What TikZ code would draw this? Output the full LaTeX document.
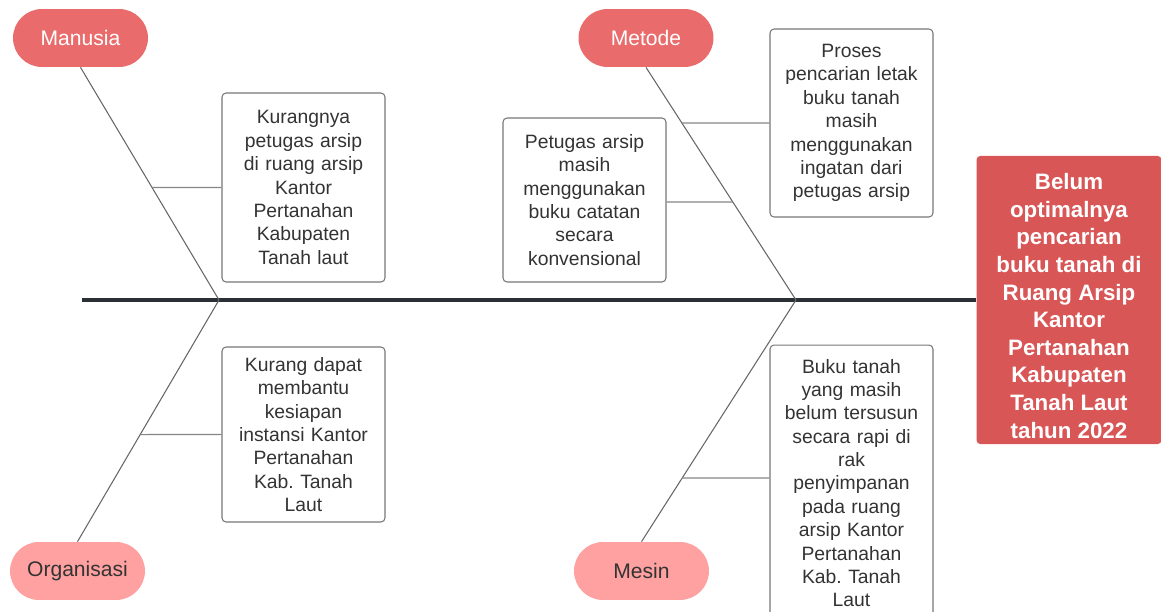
\documentclass[tikz,border=0pt]{standalone}
\usepackage{fontspec}
\setmainfont{Liberation Sans}
\frenchspacing
\definecolor{spinecol}{HTML}{2B3037}
\definecolor{headred}{HTML}{D95657}
\definecolor{pilldark}{HTML}{EA6B6B}
\definecolor{pilllight}{HTML}{FFA1A1}
\definecolor{txtgray}{HTML}{333333}
\definecolor{linegray}{HTML}{666666}
\definecolor{boxgray}{HTML}{777777}

\begin{document}
\begin{tikzpicture}[x=.02cm,y=-.02cm,
  cause/.style={rounded corners=.58cm, minimum width=2.7cm, minimum height=1.16cm,
    font=\fontsize{12}{14}\selectfont},
  topcause/.style={cause, fill=pilldark, text=white},
  botcause/.style={cause, fill=pilllight, text=txtgray},
  reason/.style={draw=boxgray, line width=.6pt, rounded corners=.08cm, align=center,
    text width=3.1cm, minimum width=3.26cm, inner sep=.08cm, text=txtgray,
    font=\fontsize{11}{13.3}\selectfont},
  bone/.style={linegray, line width=.6pt},
  twig/.style={linegray!80, line width=.6pt}]
\useasboundingbox (0,0) rectangle (1161,612);
% head
\node [fill=headred, rounded corners=.08cm, minimum width=3.7cm, minimum height=5.7cm,
  align=center, text=white, font=\bfseries\fontsize{12.7}{15.7}\selectfont] (head) at (1069,300)
  {\rule{0pt}{16pt}Belum\\optimalnya\\pencarian\\buku tanah di\\Ruang Arsip\\Kantor\\Pertanahan\\Kabupaten\\Tanah Laut\\tahun 2022};
% spine
\coordinate (tail) at (82,300);
\coordinate (j1) at (219,300);
\coordinate (j2) at (796,300);
\draw [spinecol, line width=1.8pt] (tail) -- (head.west);
% causes
\node [topcause] (manusia) at (80.5,38) {Manusia};
\node [topcause] (metode) at (646,38) {Metode};
\node [botcause] (organisasi) at (77.5,571) {Organisasi};
\node [botcause] (mesin) at (641.5,571) {Mesin};
\draw [bone] (manusia.south) -- (j1);
\draw [bone] (organisasi.north) -- (j1);
\draw [bone] (metode.south) -- (j2);
\draw [bone] (mesin.north) -- (j2);
% reasons
\node [reason, minimum height=3.78cm] (r1) at (303.5,187.5)
  {Kurangnya\\petugas arsip\\di ruang arsip\\Kantor\\Pertanahan\\Kabupaten\\Tanah laut};
\node [reason, minimum height=3.76cm] (r2) at (851.5,123)
  {Proses\\pencarian letak\\buku tanah\\masih\\menggunakan\\ingatan dari\\petugas arsip};
\node [reason, minimum height=3.28cm] (r3) at (584.5,200)
  {Petugas arsip\\masih\\menggunakan\\buku catatan\\secara\\konvensional};
\node [reason, minimum height=3.5cm] (r4) at (303.5,434.5)
  {Kurang dapat\\membantu\\kesiapan\\instansi Kantor\\Pertanahan\\Kab. Tanah\\Laut};
\node [reason, minimum height=5.52cm] (r5) at (851.5,483)
  {Buku tanah\\yang masih\\belum tersusun\\secara rapi di\\rak\\penyimpanan\\pada ruang\\arsip Kantor\\Pertanahan\\Kab. Tanah\\Laut};
% twigs
\coordinate (r3a) at ([yshift=-.04cm]r3.west);
\coordinate (r3b) at ([yshift=-.04cm]r3.east);
\coordinate (r5a) at ([yshift=.1cm]r5.west);
\coordinate (r5b) at ([yshift=.1cm]r5.east);
\draw [twig] (intersection of manusia.south--j1 and r1.west--r1.east) -- (r1.west);
\draw [twig] (intersection of metode.south--j2 and r2.west--r2.east) -- (r2.west);
\draw [twig] (r3b) -- (intersection of metode.south--j2 and r3a--r3b);
\draw [twig] (intersection of organisasi.north--j1 and r4.west--r4.east) -- (r4.west);
\draw [twig] (intersection of mesin.north--j2 and r5a--r5b) -- (r5a);
\end{tikzpicture}
\end{document}
